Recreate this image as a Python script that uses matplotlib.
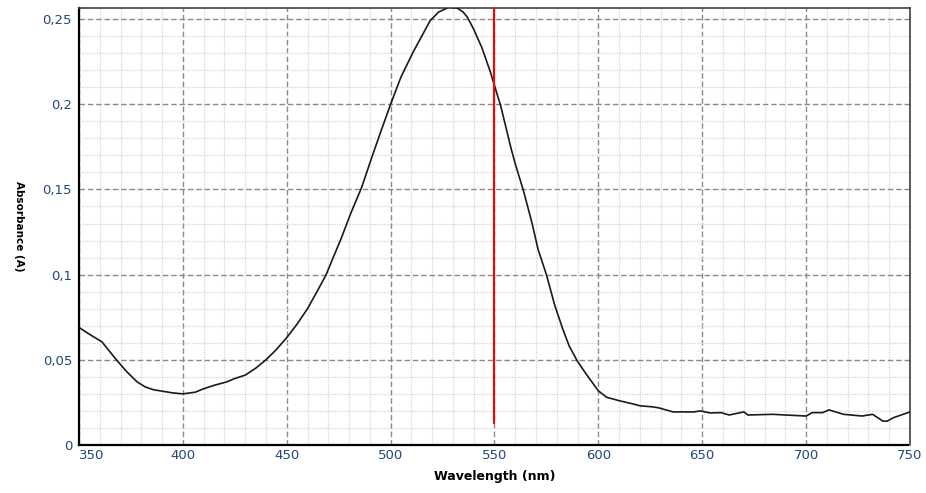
import matplotlib.pyplot as plt
from matplotlib.ticker import MultipleLocator, FuncFormatter

# absorbance spectrum
wavelength = [350, 355, 361, 368, 373, 378, 382, 386, 390, 395, 400, 406, 410, 415, 421,
              425, 430, 435, 440, 445, 450, 455, 460, 465, 469, 472, 476, 481, 486, 491,
              495, 500, 505, 511, 515, 519, 523, 528, 532, 535, 537, 540, 544, 548, 550,
              553, 555, 558, 560, 564, 568, 571, 575, 579, 583, 586, 590, 594.5, 600, 604,
              610, 617, 620, 626, 629, 636, 646, 649, 654, 659, 663, 670, 672, 684, 690,
              700, 703, 708, 711, 718, 727, 732, 737, 739, 742, 750]
absorbance = [0.069, 0.065, 0.0606, 0.050, 0.043, 0.037, 0.034, 0.0324, 0.0316, 0.0306,
              0.030, 0.031, 0.033, 0.035, 0.037, 0.039, 0.041, 0.045, 0.050, 0.056,
              0.063, 0.071, 0.080, 0.091, 0.100, 0.109, 0.1206, 0.1365, 0.151, 0.169,
              0.183, 0.200, 0.216, 0.231, 0.240, 0.249, 0.254, 0.257, 0.2565, 0.254,
              0.251, 0.244, 0.233, 0.219, 0.211, 0.199, 0.189, 0.174, 0.165, 0.149,
              0.1306, 0.1147, 0.100, 0.082, 0.0676, 0.058, 0.049, 0.041, 0.0318, 0.028,
              0.026, 0.024, 0.023, 0.0224, 0.0218, 0.0194, 0.0194, 0.020, 0.0188, 0.019,
              0.0176, 0.0194, 0.0176, 0.018, 0.0176, 0.017, 0.019, 0.019, 0.0206, 0.018,
              0.017, 0.018, 0.014, 0.014, 0.016, 0.0194]

marker_nm = 550
marker_from = 0.0125

fig = plt.figure(figsize=(9.26, 4.93), dpi=100)
ax = fig.add_axes([0.0853, 0.0974, 0.8974, 0.8864])

ax.plot(wavelength, absorbance, color='#1a1a1a', lw=1.2, zorder=3)
ax.vlines(marker_nm, marker_from, 0.2565, color='red', lw=1.5, zorder=4)

ax.set_xlim(350, 750)
ax.set_ylim(0, 0.2565)

ax.set_xticks(range(350, 751, 50))
ax.xaxis.set_minor_locator(MultipleLocator(10))
ax.yaxis.set_major_locator(MultipleLocator(0.05))
ax.yaxis.set_minor_locator(MultipleLocator(0.01))
ax.yaxis.set_major_formatter(FuncFormatter(lambda v, p: ('%g' % round(v, 3)).replace('.', ',')))

ax.grid(which='major', color='#8a8a8a', linestyle=(0, (4, 2)), linewidth=1.0)
ax.grid(which='minor', color='#d4d4d4', linestyle=(0, (1, 1)), linewidth=0.9)
ax.set_axisbelow(True)

tick_col = '#24457a'
ax.tick_params(which='both', length=0, labelsize=9.5, labelcolor=tick_col)
ax.tick_params(axis='x', pad=3)
ax.tick_params(axis='y', pad=5)
fig.canvas.draw()
# keep the first x label inside the plot, as in the original
for t in ax.xaxis.get_major_ticks():
    if t.label1.get_text() == '350':
        t.label1.set_ha('left')

for s in ['left', 'bottom']:
    ax.spines[s].set_linestyle((0, (1, 1)))
    ax.spines[s].set_linewidth(1.6)
    ax.spines[s].set_color('black')
for s in ['top', 'right']:
    ax.spines[s].set_linewidth(1.2)
    ax.spines[s].set_color('#404040')

ax.set_xlabel('Wavelength (nm)', fontsize=9, fontweight='bold', labelpad=6)
ax.set_ylabel('Absorbance (A)', fontsize=7.5, fontweight='bold', rotation=270)
ax.yaxis.set_label_coords(-0.078, 0.50)

fig.savefig('out.png', dpi=100)
